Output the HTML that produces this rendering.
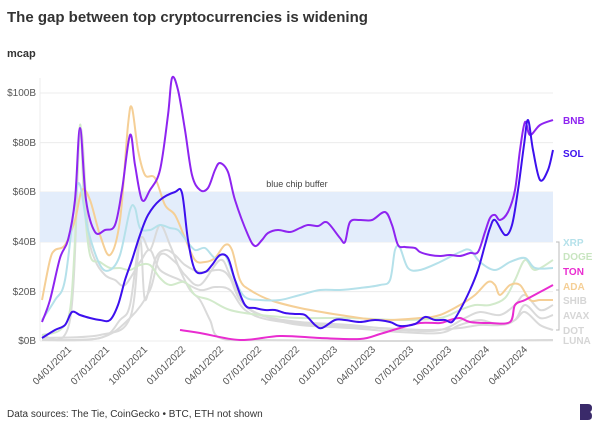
<!DOCTYPE html><html><head><style>body{margin:0;background:#fff}svg{display:block;font-family:"Liberation Sans",sans-serif}</style></head><body>
<svg width="600" height="428" viewBox="0 0 600 428">
<text x="7" y="22" font-size="15" font-weight="bold" fill="#333">The gap between top cryptocurrencies is widening</text>
<text x="7" y="57" font-size="11" font-weight="bold" fill="#333">mcap</text>
<g stroke="#ececec" stroke-width="1">
<line x1="40" x2="553" y1="93" y2="93"/><line x1="40" x2="553" y1="142.6" y2="142.6"/><line x1="40" x2="553" y1="192" y2="192"/><line x1="40" x2="553" y1="242" y2="242"/><line x1="40" x2="553" y1="291.6" y2="291.6"/><line x1="40" x2="553" y1="341" y2="341"/><line x1="40" x2="40" y1="78" y2="341"/></g>
<rect x="40" y="192" width="513" height="50" fill="#e3edfb"/>
<text x="297" y="187" font-size="9" fill="#444" text-anchor="middle">blue chip buffer</text>
<g font-size="10" fill="#555" text-anchor="end">
<text x="36" y="96">$100B</text><text x="36" y="146">$80B</text><text x="36" y="195">$60B</text><text x="36" y="245">$40B</text><text x="36" y="295">$20B</text><text x="36" y="344">$0B</text></g>
<g fill="none" stroke-width="2" stroke-linejoin="round" class="s">
<path stroke="#dadada" d="M42,338 L100,335 L130,318 L140,240 L150,250 L160,225 L170,245 L180,270 L190,290 L200,300 L210,320 L220,338 L260,340 L400,341 L553,340"/>
<path stroke="#dadada" d="M42,336 L70,320 L80,130 L88,230 L95,260 L105,275 L115,280 L125,285 L140,262 L150,250 L160,270 L180,280 L200,290 L215,287 L230,290 L245,310 L270,320 L320,325 L380,328 L430,330 L460,328 L480,325 L500,325 L515,320 L525,312 L540,325 L553,330"/>
<path stroke="#dadada" d="M42,340 L100,338 L130,318 L150,290 L160,255 L175,262 L185,275 L200,285 L220,260 L230,275 L245,305 L270,318 L300,325 L350,328 L400,332 L440,333 L460,325 L480,320 L500,325 L515,320 L525,305 L540,318 L553,315"/>
<path stroke="#dadada" d="M42,340 L100,338 L120,320 L130,305 L140,240 L145,300 L155,260 L165,250 L175,255 L185,265 L200,272 L220,270 L230,278 L240,300 L260,315 L300,322 L350,325 L400,330 L440,330 L465,318 L480,312 L500,315 L515,305 L525,295 L540,310 L553,305"/>
<path stroke="#d2eacb" d="M42,335 L60,330 L70,310 L75,240 L80,125 L84,200 L90,255 L100,262 L110,268 L120,268 L130,270 L140,265 L150,265 L160,278 L170,285 L185,282 L195,295 L210,300 L230,310 L260,315 L300,318 L350,318 L400,320 L440,318 L460,310 L475,305 L490,305 L505,298 L515,280 L525,260 L535,270 L553,260"/>
<path stroke="#f5cf96" d="M42,300 L50,260 L55,250 L65,245 L75,220 L82,190 L90,200 L100,235 L110,255 L120,220 L128,125 L132,108 L138,150 L145,175 L155,178 L165,205 L175,215 L185,238 L195,260 L205,262 L215,258 L225,245 L232,250 L240,280 L250,290 L270,300 L300,308 L340,315 L380,320 L420,318 L440,315 L460,305 L475,295 L488,282 L495,285 L500,295 L510,285 L520,285 L530,300 L540,300 L553,300"/>
<path stroke="#b5e1ea" d="M42,320 L55,300 L65,280 L75,200 L80,185 L88,230 L100,265 L110,270 L120,255 L130,210 L135,208 L140,228 L150,230 L160,225 L170,228 L178,230 L186,240 L195,250 L205,248 L215,258 L225,255 L235,280 L245,297 L260,300 L280,300 L300,295 L320,290 L340,290 L360,288 L380,285 L390,280 L395,250 L400,248 L408,268 L420,270 L440,262 L460,252 L470,250 L480,262 L495,270 L510,262 L525,258 L535,268 L553,268"/>
<path stroke="#e92cd0" d="M180,330 L200,333 L240,340 L280,336 L320,338 L360,339 L380,334 L400,328 L420,323 L440,323 L450,320 L460,318 L470,322 L490,323 L510,322 L515,305 L525,300 L540,292 L553,285"/>
<path stroke="#8e24f0" d="M42,322 L50,300 L60,258 L68,240 L75,200 L80,128 L86,200 L95,232 L105,230 L115,225 L122,190 L130,135 L135,165 L142,200 L150,190 L160,170 L168,115 L172,78 L178,90 L185,130 L192,175 L200,190 L208,188 L215,170 L220,163 L228,172 L235,200 L248,235 L255,246 L262,240 L268,233 L278,230 L290,232 L300,228 L308,225 L318,226 L325,222 L330,225 L340,238 L345,242 L350,222 L360,220 L372,220 L385,212 L392,225 L398,245 L405,247 L415,248 L420,252 L430,255 L440,256 L450,255 L460,256 L470,253 L478,252 L485,232 L490,218 L495,215 L500,220 L508,212 L515,190 L520,150 L525,122 L530,135 L540,125 L553,120"/>
<path stroke="#3d10ee" d="M42,338 L55,330 L65,325 L72,312 L80,315 L90,318 L100,320 L110,320 L118,305 L125,280 L132,260 L140,235 L148,215 L160,200 L175,192 L182,193 L188,240 L195,270 L205,272 L212,265 L220,255 L228,258 L235,280 L245,305 L255,308 L265,310 L275,310 L285,313 L295,314 L305,315 L315,325 L322,328 L335,320 L345,320 L360,322 L375,320 L390,322 L400,326 L415,324 L425,317 L435,320 L445,320 L452,322 L460,310 L470,290 L478,270 L485,245 L490,228 L495,220 L505,235 L512,225 L518,190 L524,145 L528,120 L533,150 L540,180 L548,170 L553,150"/>
</g>
<path d="M556,242 H559 V330 H556 M559,290 H556" stroke="#bbb" fill="none"/>
<g font-size="10" font-weight="bold">
<text x="563" y="124" fill="#8e24f0">BNB</text><text x="563" y="157" fill="#3d10ee">SOL</text>
<text x="563" y="246" fill="#b5e1ea">XRP</text><text x="563" y="260" fill="#c8e5c0">DOGE</text>
<text x="563" y="275" fill="#e92cd0">TON</text><text x="563" y="290" fill="#f5cf96">ADA</text>
<text x="563" y="304" fill="#d6d6d6">SHIB</text><text x="563" y="319" fill="#d6d6d6">AVAX</text>
<text x="563" y="334" fill="#d6d6d6">DOT</text><text x="563" y="344" fill="#d6d6d6">LUNA</text></g>
<g font-size="10" fill="#555" text-anchor="end">
<text transform="translate(72,350) rotate(-45)">04/01/2021</text><text transform="translate(110,350) rotate(-45)">07/01/2021</text><text transform="translate(148,350) rotate(-45)">10/01/2021</text><text transform="translate(186,350) rotate(-45)">01/01/2022</text><text transform="translate(224,350) rotate(-45)">04/01/2022</text><text transform="translate(262,350) rotate(-45)">07/01/2022</text><text transform="translate(300,350) rotate(-45)">10/01/2022</text><text transform="translate(338,350) rotate(-45)">01/01/2023</text><text transform="translate(376,350) rotate(-45)">04/01/2023</text><text transform="translate(414,350) rotate(-45)">07/01/2023</text><text transform="translate(452,350) rotate(-45)">10/01/2023</text><text transform="translate(490,350) rotate(-45)">01/01/2024</text><text transform="translate(528,350) rotate(-45)">04/01/2024</text></g>
<text x="7" y="417" font-size="10" fill="#333">Data sources: The Tie, CoinGecko • BTC, ETH not shown</text>
<path d="M580,404 H588 Q592,404 592,408 Q592,411 590,412 Q592,413 592,416 Q592,420 588,420 H580 Z" fill="#3a2a6a"/>
</svg>
<script>
document.querySelectorAll('g.s path').forEach(function(p){
var pts=p.getAttribute('d').match(/-?\d+(\.\d+)?/g).map(Number),a=[];
for(var i=0;i<pts.length;i+=2)a.push([pts[i],pts[i+1]]);
var d='M'+a[0][0]+','+a[0][1];
for(var i=0;i<a.length-1;i++){var p0=a[i-1]||a[i],p1=a[i],p2=a[i+1],p3=a[i+2]||p2;
d+=' C'+(p1[0]+(p2[0]-p0[0])/6)+','+(p1[1]+(p2[1]-p0[1])/6)+' '+(p2[0]-(p3[0]-p1[0])/6)+','+(p2[1]-(p3[1]-p1[1])/6)+' '+p2[0]+','+p2[1];}
p.setAttribute('d',d);});
</script>
</body></html>
